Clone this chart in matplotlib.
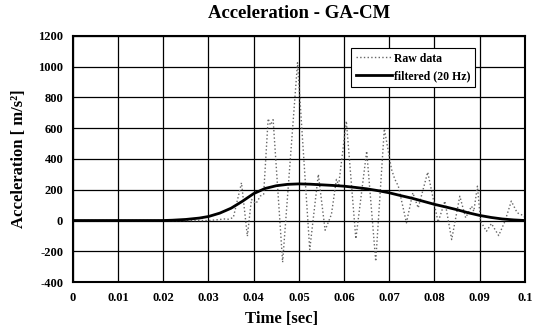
import numpy as np
from matplotlib import pyplot as plt

# 原始数据（从图中读取的极值点）
raw_t = [0, 0.030, 0.032, 0.0335, 0.0345, 0.0355, 0.0373, 0.0386, 0.0395, 0.0405,
         0.0415, 0.0422, 0.0432, 0.0437, 0.0443, 0.0464, 0.0497, 0.0524, 0.0543, 0.0558,
         0.0572, 0.0583, 0.0588, 0.0605, 0.0626, 0.0650, 0.0670, 0.0689, 0.0705, 0.0712,
         0.0720, 0.0738, 0.0752, 0.0764, 0.0785, 0.0808, 0.0823, 0.0838, 0.0856, 0.0869,
         0.0882, 0.0887, 0.0895, 0.0902, 0.0915, 0.0926, 0.0942, 0.0956, 0.0970, 0.0983,
         0.0996, 0.1]
raw_v = [0, 0, 5, 10, 8, 20, 245, -102, 137, 110,
         160, 170, 662, 620, 655, -271, 1026, -189, 300, -63,
         40, 267, 230, 646, -119, 451, -265, 596, 332, 270,
         223, -15, 180, 82, 314, -11, 126, -124, 158, 18,
         93, 60, 223, -5, -70, -20, -98, -4, 126, 50,
         33, 20]

# 滤波后的曲线 (20 Hz)
filt_t = [0, 0.010, 0.020, 0.022, 0.025, 0.028, 0.030, 0.0325, 0.035, 0.0375,
          0.040, 0.0425, 0.045, 0.0475, 0.050, 0.0525, 0.055, 0.0575, 0.060, 0.0625,
          0.065, 0.0675, 0.070, 0.0725, 0.075, 0.0775, 0.080, 0.0825, 0.085, 0.0875,
          0.090, 0.0925, 0.095, 0.0975, 0.1]
filt_v = [0, 0, 0, 2, 7, 16, 26, 48, 80, 125,
          175, 208, 226, 235, 238, 236, 232, 228, 223, 215,
          206, 194, 180, 162, 145, 125, 105, 88, 70, 50,
          33, 20, 10, 4, 0]

xtick_labels = ['0', '0.01', '0.02', '0.03', '0.04', '0.05', '0.06', '0.07', '0.08', '0.09', '0.1']

plt.rcParams['font.family'] = ['Liberation Serif', 'DejaVu Serif']
plt.rcParams['font.weight'] = 'bold'
plt.rcParams['axes.unicode_minus'] = False

fig = plt.figure(figsize=(5.4, 3.35), dpi=100)
ax = fig.add_axes([0.135, 0.158, 0.837, 0.735])

ax.plot(raw_t, raw_v, color='#666666', ls=':', lw=1.0, label='Raw data')
ax.plot(filt_t, filt_v, color='black', lw=2.0, label='filtered (20 Hz)')

ax.set_xlim(0, 0.1)
ax.set_ylim(-400, 1200)
ax.set_xticks(np.arange(0, 0.11, 0.01))
ax.set_xticklabels(xtick_labels)
ax.set_yticks(np.arange(-400, 1201, 200))
ax.tick_params(length=0, labelsize=9, pad=7)
for lab in ax.get_xticklabels() + ax.get_yticklabels():
    lab.set_fontweight('bold')

ax.grid(True, color='black', lw=0.9)
for s in ax.spines.values():
    s.set_linewidth(1.5)

ax.set_title('Acceleration - GA-CM', fontsize=13.5, fontweight='bold', pad=13)
ax.set_xlabel('Time [sec]', fontsize=12, fontweight='bold', labelpad=5, x=0.462)
ax.set_ylabel('Acceleration [ m/s²]', fontsize=12, fontweight='bold', labelpad=8)

leg = ax.legend(loc='upper right', bbox_to_anchor=(0.903, 0.975), fontsize=8.5,
                fancybox=False, framealpha=1, edgecolor='black', handlelength=3,
                handletextpad=0.2, borderpad=0.4, labelspacing=0.5)
leg.get_frame().set_linewidth(0.8)

fig.savefig('out.png', dpi=100)
